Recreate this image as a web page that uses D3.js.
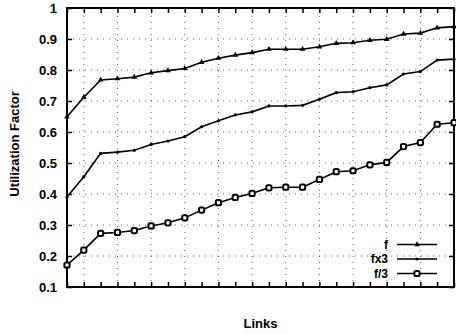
<!DOCTYPE html>
<html>
<head>
<meta charset="utf-8">
<script src="https://cdn.jsdelivr.net/npm/d3@7"></script>
<style>
  body { margin: 0; background: #fff; }
  svg { display: block; font-family: "Liberation Sans", Arial, sans-serif; }
</style>
</head>
<body>
<div id="chart"></div>
<script>
// link index 0..23
const links = d3.range(24);
const seriesNames = ['f', 'fx3', 'f/3'];
const fValues = [0.649, 0.712, 0.768, 0.772, 0.777, 0.791, 0.798, 0.805, 0.825, 0.838, 0.848, 0.856,
  0.867, 0.867, 0.867, 0.875, 0.886, 0.888, 0.896, 0.899, 0.916, 0.919, 0.936, 0.940];
const fx3Values = [0.390, 0.456, 0.531, 0.535, 0.541, 0.560, 0.571, 0.585, 0.617, 0.636, 0.655, 0.665,
  0.684, 0.684, 0.686, 0.706, 0.727, 0.730, 0.743, 0.752, 0.787, 0.795, 0.832, 0.835];
const fThirdValues = [0.171, 0.219, 0.273, 0.276, 0.282, 0.297, 0.307, 0.323, 0.348, 0.372, 0.389, 0.402,
  0.420, 0.422, 0.422, 0.447, 0.472, 0.475, 0.494, 0.502, 0.553, 0.566, 0.625, 0.630];
const yTicks = [0.1, 0.2, 0.3, 0.4, 0.5, 0.6, 0.7, 0.8, 0.9, 1];
const yTickLabels = ['0.1', '0.2', '0.3', '0.4', '0.5', '0.6', '0.7', '0.8', '0.9', '1'];

const width = 456, height = 335;
const margin = {top: 8, right: 1, bottom: 48, left: 67};

const svg = d3.select('#chart').append('svg')
  .attr('width', width)
  .attr('height', height);

const x = d3.scaleLinear().domain([0, 23]).range([margin.left, width - margin.right - 1]);
const y = d3.scaleLinear().domain([0.1, 1]).range([height - margin.bottom, margin.top]);

const x0 = x.range()[0], x1 = x.range()[1];
const y0 = y.range()[0], y1 = y.range()[1];

// dotted grid
const grid = svg.append('g').attr('class', 'grid')
  .style('stroke', '#666')
  .style('stroke-width', 1)
  .style('stroke-dasharray', '1,5');
grid.selectAll('.hgrid')
  .data(yTicks.slice(1, -1))
  .enter().append('line')
  .attr('x1', x0).attr('x2', x1)
  .attr('y1', (d) => y(d)).attr('y2', (d) => y(d));
grid.selectAll('.vgrid')
  .data(links.filter((d) => d > 0 && d < 23 && d % 2 === 1))
  .enter().append('line')
  .attr('x1', (d) => x(d)).attr('x2', (d) => x(d))
  .attr('y1', y0).attr('y2', y1);

// axes with inward ticks
const tickLen = 5;
svg.append('g')
  .attr('transform', 'translate(0,' + y0 + ')')
  .call(d3.axisTop(x).tickValues(links).tickSize(tickLen).tickFormat(''))
  .call((g) => g.select('.domain').remove());
svg.append('g')
  .attr('transform', 'translate(0,' + y1 + ')')
  .call(d3.axisBottom(x).tickValues(links).tickSize(tickLen).tickFormat(''))
  .call((g) => g.select('.domain').remove());
svg.append('g')
  .attr('transform', 'translate(' + x0 + ',0)')
  .call(d3.axisRight(y).tickValues(yTicks).tickSize(tickLen).tickFormat(''))
  .call((g) => g.select('.domain').remove());
svg.append('g')
  .attr('transform', 'translate(' + x1 + ',0)')
  .call(d3.axisLeft(y).tickValues(yTicks).tickSize(tickLen).tickFormat(''))
  .call((g) => g.select('.domain').remove());
svg.selectAll('.tick line').style('stroke', '#000').style('stroke-width', 1.5);

// y tick labels
svg.append('g').selectAll('text')
  .data(yTicks)
  .enter().append('text')
  .attr('x', x0 - 10)
  .attr('y', (d) => y(d))
  .attr('dy', '0.35em')
  .attr('text-anchor', 'end')
  .style('font-size', '13px')
  .style('font-weight', 'bold')
  .text((d, i) => yTickLabels[i]);

// frame
svg.append('rect')
  .attr('x', x0).attr('y', y1)
  .attr('width', x1 - x0).attr('height', y0 - y1)
  .style('fill', 'none')
  .style('stroke', '#000')
  .style('stroke-width', 2);

// axis titles
svg.append('text')
  .attr('transform', 'translate(19,144) rotate(-90)')
  .attr('text-anchor', 'middle')
  .style('font-size', '13px')
  .style('font-weight', 'bold')
  .text('Utilization Factor');
svg.append('text')
  .attr('x', (x0 + x1) / 2)
  .attr('y', 328)
  .attr('text-anchor', 'middle')
  .style('font-size', '13px')
  .style('font-weight', 'bold')
  .text('Links');

// series
const series = [
  {name: seriesNames[0], values: fValues, marker: 'triangle'},
  {name: seriesNames[1], values: fx3Values, marker: 'dot'},
  {name: seriesNames[2], values: fThirdValues, marker: 'circle'}
];

const line = d3.line().x((d, i) => x(i)).y((d) => y(d));

function drawMarker(g, marker) {
  if (marker === 'triangle') {
    g.append('path').attr('d', d3.symbol(d3.symbolTriangle, 14)()).style('fill', '#000');
  } else if (marker === 'dot') {
    g.append('circle').attr('r', 1.6).style('fill', '#000');
  } else {
    g.append('rect').attr('x', -2.6).attr('y', -2.6).attr('width', 5.2).attr('height', 5.2)
      .attr('rx', 1.6)
      .style('fill', '#fff').style('stroke', '#000').style('stroke-width', 2);
  }
}

series.forEach((s) => {
  svg.append('path')
    .datum(s.values)
    .attr('d', line)
    .style('fill', 'none')
    .style('stroke', '#000')
    .style('stroke-width', 1.6);
  svg.append('g').selectAll('g')
    .data(s.values)
    .enter().append('g')
    .attr('transform', (d, i) => 'translate(' + x(i) + ',' + y(d) + ')')
    .each(function () { drawMarker(d3.select(this), s.marker); });
});

// legend
const legend = svg.append('g').attr('class', 'legend');
const legendRows = legend.selectAll('g')
  .data(series)
  .enter().append('g')
  .attr('transform', (d, i) => 'translate(0,' + (244.5 + i * 14.5) + ')');
legendRows.append('text')
  .attr('x', 388)
  .attr('dy', '0.35em')
  .attr('text-anchor', 'end')
  .style('font-size', '12px')
  .style('font-weight', 'bold')
  .text((d) => d.name);
legendRows.append('line')
  .attr('x1', 397).attr('x2', 437)
  .style('stroke', '#000')
  .style('stroke-width', 1.6);
legendRows.append('g')
  .attr('transform', 'translate(417,0)')
  .each(function (d) { drawMarker(d3.select(this), d.marker); });
</script>
</body>
</html>
